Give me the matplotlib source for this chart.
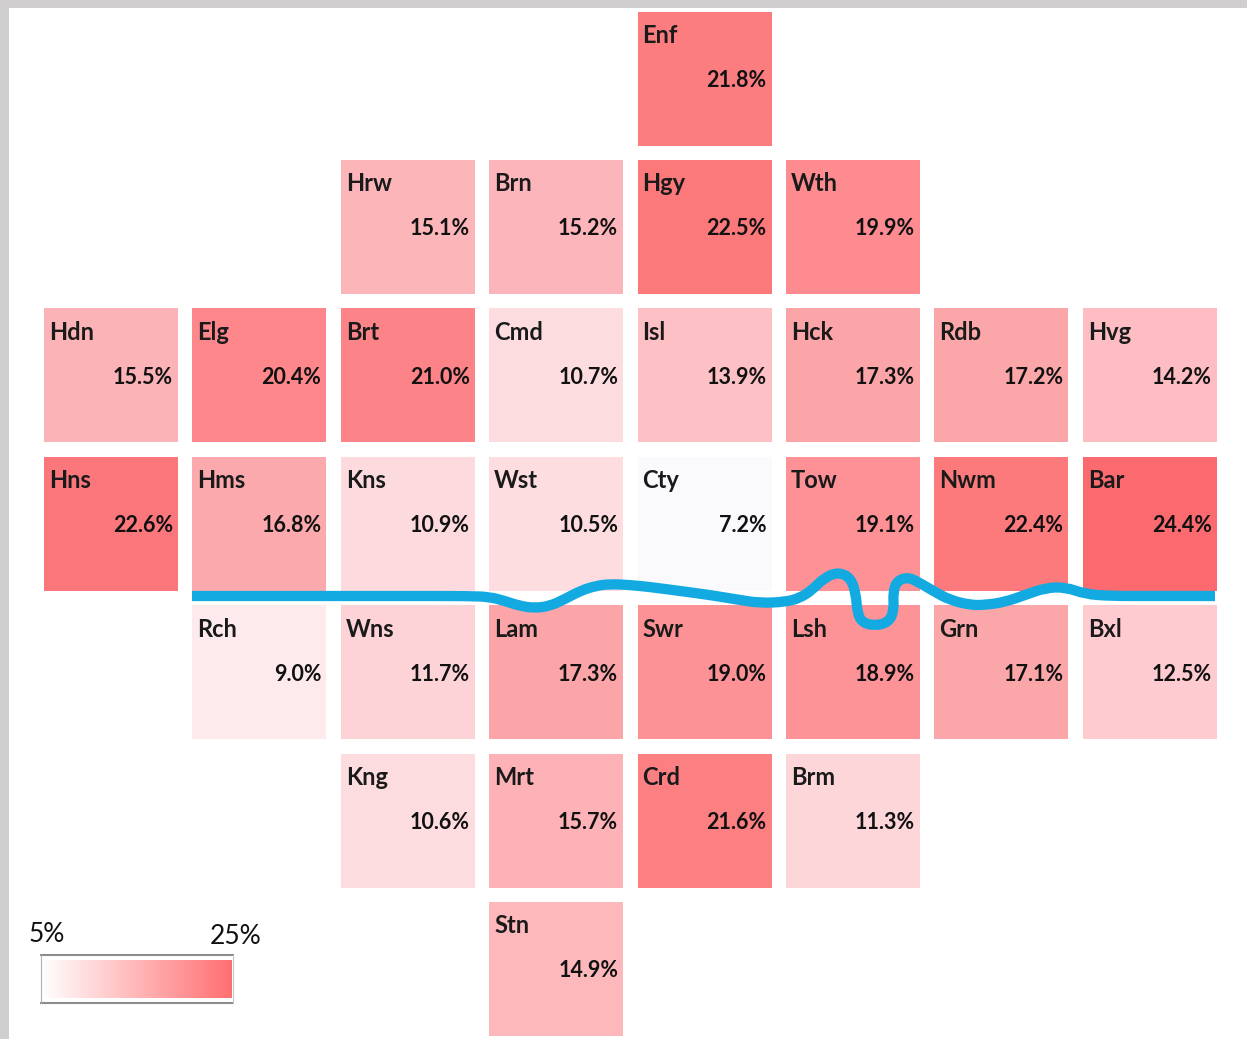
import numpy as np
import matplotlib
matplotlib.use('Agg')
import matplotlib.pyplot as plt
from matplotlib.colors import LinearSegmentedColormap, Normalize
from matplotlib.path import Path
from matplotlib.patches import PathPatch

# borough tiles, grid position and share
names = ['Enf', 'Hrw', 'Brn', 'Hgy', 'Wth',
         'Hdn', 'Elg', 'Brt', 'Cmd', 'Isl', 'Hck', 'Rdb', 'Hvg',
         'Hns', 'Hms', 'Kns', 'Wst', 'Cty', 'Tow', 'Nwm', 'Bar',
         'Rch', 'Wns', 'Lam', 'Swr', 'Lsh', 'Grn', 'Bxl',
         'Kng', 'Mrt', 'Crd', 'Brm', 'Stn']
values = [21.8, 15.1, 15.2, 22.5, 19.9,
          15.5, 20.4, 21.0, 10.7, 13.9, 17.3, 17.2, 14.2,
          22.6, 16.8, 10.9, 10.5, 7.2, 19.1, 22.4, 24.4,
          9.0, 11.7, 17.3, 19.0, 18.9, 17.1, 12.5,
          10.6, 15.7, 21.6, 11.3, 14.9]
cols = [4, 2, 3, 4, 5,
        0, 1, 2, 3, 4, 5, 6, 7,
        0, 1, 2, 3, 4, 5, 6, 7,
        1, 2, 3, 4, 5, 6, 7,
        2, 3, 4, 5, 3]
rows = [0, 1, 1, 1, 1,
        2, 2, 2, 2, 2, 2, 2, 2,
        3, 3, 3, 3, 3, 3, 3, 3,
        4, 4, 4, 4, 4, 4, 4,
        5, 5, 5, 5, 6]

# the Thames
river_x = [192, 300, 400, 470, 490, 505, 520, 535, 550, 565, 580, 595, 610, 630, 650, 680, 710, 740,
           760, 785, 800, 812, 824, 838, 851, 856, 857, 861, 875, 889, 894, 893, 897, 908, 920, 935,
           950, 970, 985, 1005, 1025, 1045, 1065, 1085, 1110, 1150, 1215]
river_y = [596, 596, 596, 596, 597, 601, 606, 608, 606, 599, 591, 586, 584, 585, 587, 591, 595, 600,
           603, 602, 598, 590, 578, 572, 578, 595, 610, 622, 626, 622, 610, 592, 581, 577, 583, 592,
           600, 605, 605, 602, 595, 588, 587, 594, 596, 596, 596]

scale_min = 5
scale_max = 25
stops = [(5, '#FFFFFF'), (7.2, '#FAFAFD'), (10.5, '#FDDDE0'), (14.2, '#FDBDC2'), (17.2, '#FBA6A9'),
         (19, '#FD9296'), (22, '#FC7C7F'), (25, '#F9666B')]
legend_colors = ['#FFFFFF', '#FF6F72']

W, H = 1247, 1039
fig = plt.figure(figsize=(W / 100, H / 100), dpi=100, facecolor='#D0CECF')
ax = fig.add_axes([0, 0, 1, 1])
ax.set_xlim(0, W)
ax.set_ylim(H, 0)
ax.axis('off')

# white page inside the grey frame
ax.fill_between([9, W], 8, H, color='white', lw=0, zorder=0)

cmap = LinearSegmentedColormap.from_list(
    'rd', [((v - scale_min) / (scale_max - scale_min), c) for v, c in stops])
norm = Normalize(scale_min, scale_max)

x0, y0, pitch, size = 44, 11.5, 148.4, 134
font = 'Lato'
for n, v, c, r in zip(names, values, cols, rows):
    x = x0 + c * pitch
    y = y0 + r * pitch
    ax.bar(x, size, width=size, bottom=y, align='edge', color=cmap(norm(v)), lw=0, zorder=1)
    ax.text(x + 5, y + 24, n, family=font, weight='bold', fontsize=17, color='#1a1a1a',
            ha='left', va='center', zorder=3)
    ax.text(x + size - 5, y + 69, f'{v:.1f}%', family=font, weight='bold', fontsize=15.5,
            color='#111111', ha='right', va='center', zorder=3)

# smooth the traced river with quadratic segments through the midpoints
pts = np.column_stack([river_x, river_y]).astype(float)
mids = (pts[:-1] + pts[1:]) / 2
verts = [pts[0], mids[0]]
codes = [Path.MOVETO, Path.LINETO]
for p, m in zip(pts[1:-1], mids[1:]):
    verts += [p, m]
    codes += [Path.CURVE3, Path.CURVE3]
verts.append(pts[-1])
codes.append(Path.LINETO)
ax.add_patch(PathPatch(Path(verts, codes), fc='none', ec='#13AAE2', lw=7.4,
                       joinstyle='round', capstyle='butt', zorder=2))

# legend
grad = np.linspace(scale_min, scale_max, 256).reshape(1, -1)
legend_cmap = LinearSegmentedColormap.from_list('leg', legend_colors)
ax.imshow(grad, cmap=legend_cmap, norm=norm, extent=[41, 232, 998, 960], aspect='auto', zorder=1)
ax.set_xlim(0, W)
ax.set_ylim(H, 0)
ax.plot([41, 233], [955, 955], color='#8C8C8C', lw=1.5, zorder=2)
ax.plot([41, 233], [1003, 1003], color='#8C8C8C', lw=1.5, zorder=2)
ax.plot([41, 41], [955, 1003], color='#B0B0B0', lw=0.8, zorder=2)
ax.plot([233, 233], [955, 1003], color='#C8C8C8', lw=0.8, zorder=2)
ax.text(29, 935, '5%', family=font, fontsize=19, color='#111111', ha='left', va='center')
ax.text(210, 936, '25%', family=font, fontsize=19, color='#111111', ha='left', va='center')

fig.savefig('out.png', dpi=100, facecolor=fig.get_facecolor())
